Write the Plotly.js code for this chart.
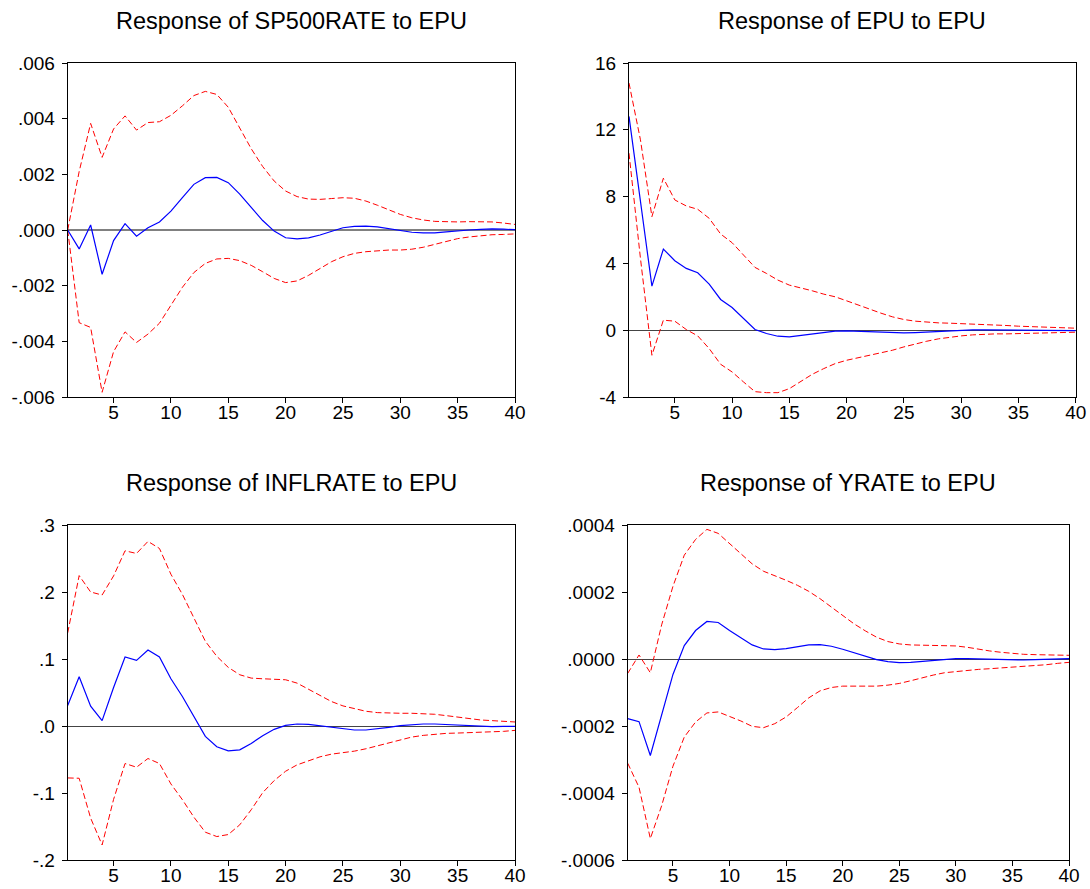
<!DOCTYPE html>
<html>
<head>
<meta charset="utf-8">
<script src="https://cdn.plot.ly/plotly-3.0.1.min.js"></script>
<style>html,body{margin:0;padding:0;background:#fff;}#chart{width:1090px;height:889px;}</style>
</head>
<body>
<div id="chart"></div>
<script>
// Periods
var periods = [1,2,3,4,5,6,7,8,9,10,11,12,13,14,15,16,17,18,19,20,21,22,23,24,25,26,27,28,29,30,31,32,33,34,35,36,37,38,39,40];

// Panel titles
var panelTitles = ["Response of SP500RATE to EPU", "Response of EPU to EPU", "Response of INFLRATE to EPU", "Response of YRATE to EPU"];

// Response of SP500RATE to EPU
var spResp = [0, -0.00068, 0.00018, -0.00159, -0.00038, 0.00023, -0.00022, 0.00008, 0.00029, 0.00068, 0.00116, 0.00164, 0.00188, 0.00189, 0.00170, 0.00129, 0.00081, 0.00034, -0.00004, -0.00028, -0.00032, -0.00028, -0.00018, -0.00004, 0.00008, 0.00013, 0.00014, 0.00011, 0.00005, -0.00001, -0.00008, -0.0001, -0.0001, -0.00007, -0.00003, 0, 0.00002, 0.00004, 0.00003, 0.00001];
var spUpper = [0, 0.0021, 0.00383, 0.00261, 0.00363, 0.0041, 0.00359, 0.00386, 0.00389, 0.00412, 0.00446, 0.00483, 0.00498, 0.00487, 0.00441, 0.00364, 0.00292, 0.00228, 0.00176, 0.0014, 0.0012, 0.00111, 0.0011, 0.00113, 0.00116, 0.00114, 0.00104, 0.00089, 0.00072, 0.00056, 0.00044, 0.00036, 0.00031, 0.00029, 0.00029, 0.0003, 0.0003, 0.00029, 0.00025, 0.0002];
var spLower = [0, -0.00333, -0.0035, -0.00583, -0.00437, -0.00366, -0.00404, -0.00374, -0.00335, -0.00272, -0.00206, -0.00153, -0.0012, -0.00104, -0.00102, -0.0011, -0.00127, -0.0015, -0.00174, -0.00189, -0.00183, -0.00163, -0.00138, -0.00114, -0.00096, -0.00084, -0.00078, -0.00074, -0.00072, -0.00072, -0.00069, -0.00062, -0.00051, -0.00041, -0.00031, -0.00025, -0.0002, -0.00017, -0.00016, -0.00014];

// Response of EPU to EPU
var epuResp = [12.8, 7.7, 2.64, 4.86, 4.16, 3.7, 3.44, 2.76, 1.84, 1.36, 0.68, 0.04, -0.2, -0.36, -0.4, -0.32, -0.22, -0.14, -0.06, -0.04, -0.06, -0.1, -0.14, -0.16, -0.16, -0.14, -0.1, -0.06, -0.02, 0, 0.02, 0.02, 0.02, 0.01, 0, 0, -0.01, -0.01, -0.02, -0.02];
var epuUpper = [14.8, 11.4, 6.8, 9.1, 7.8, 7.44, 7.24, 6.7, 5.76, 5.24, 4.5, 3.76, 3.4, 3.0, 2.7, 2.54, 2.36, 2.16, 2.0, 1.76, 1.5, 1.26, 1.02, 0.8, 0.64, 0.54, 0.48, 0.44, 0.42, 0.4, 0.38, 0.34, 0.3, 0.28, 0.24, 0.22, 0.2, 0.16, 0.14, 0.12];
var epuLower = [10.6, 4.3, -1.5, 0.6, 0.54, 0.04, -0.34, -1.1, -2.04, -2.5, -3.1, -3.68, -3.74, -3.74, -3.5, -3.06, -2.64, -2.3, -2.0, -1.8, -1.66, -1.52, -1.36, -1.2, -1.0, -0.82, -0.66, -0.52, -0.42, -0.34, -0.28, -0.24, -0.22, -0.22, -0.2, -0.2, -0.18, -0.16, -0.14, -0.12];

// Response of INFLRATE to EPU
var inflResp = [0.0305, 0.0735, 0.0295, 0.008, 0.0575, 0.103, 0.098, 0.1135, 0.103, 0.0705, 0.044, 0.014, -0.0155, -0.031, -0.037, -0.0355, -0.026, -0.0145, -0.005, 0.001, 0.003, 0.0025, 0.0005, -0.002, -0.0045, -0.006, -0.006, -0.0045, -0.002, 0.0005, 0.002, 0.003, 0.003, 0.002, 0.001, 0, -0.001, -0.001, -0.0005, -0.0005];
var inflUpper = [0.139, 0.2245, 0.2, 0.1955, 0.224, 0.2615, 0.2575, 0.2755, 0.265, 0.2265, 0.1965, 0.1615, 0.1265, 0.104, 0.0875, 0.0765, 0.0715, 0.0705, 0.07, 0.069, 0.064, 0.055, 0.045, 0.0365, 0.03, 0.0255, 0.022, 0.02, 0.019, 0.019, 0.019, 0.0185, 0.0175, 0.0155, 0.013, 0.011, 0.009, 0.008, 0.007, 0.006];
var inflLower = [-0.0775, -0.078, -0.1375, -0.1775, -0.1095, -0.056, -0.0615, -0.0485, -0.056, -0.0865, -0.11, -0.136, -0.1585, -0.165, -0.162, -0.1475, -0.125, -0.0995, -0.0815, -0.0675, -0.058, -0.0515, -0.046, -0.042, -0.04, -0.0375, -0.034, -0.0295, -0.025, -0.02, -0.0165, -0.014, -0.012, -0.011, -0.0105, -0.01, -0.0095, -0.009, -0.008, -0.0065];

// Response of YRATE to EPU
var yResp = [-1.78e-4, -1.87e-4, -2.88e-4, -1.68e-4, -4.6e-5, 4.0e-5, 8.5e-5, 1.12e-4, 1.09e-4, 8.5e-5, 6.4e-5, 4.2e-5, 3.0e-5, 2.8e-5, 3.1e-5, 3.6e-5, 4.2e-5, 4.3e-5, 3.8e-5, 2.9e-5, 1.8e-5, 7e-6, -2e-6, -8e-6, -1.1e-5, -1.0e-5, -7e-6, -4e-6, -1e-6, 1e-6, 1e-6, 0, -1e-6, -2e-6, -3e-6, -3e-6, -2e-6, -1e-6, 0, 1e-6];
var yUpper = [-4.3e-5, 1.2e-5, -4.1e-5, 1.02e-4, 2.17e-4, 3.10e-4, 3.57e-4, 3.87e-4, 3.75e-4, 3.44e-4, 3.14e-4, 2.84e-4, 2.62e-4, 2.49e-4, 2.35e-4, 2.20e-4, 2.02e-4, 1.80e-4, 1.55e-4, 1.30e-4, 1.05e-4, 8.4e-5, 6.5e-5, 5.2e-5, 4.5e-5, 4.2e-5, 4.1e-5, 4.1e-5, 4.1e-5, 3.9e-5, 3.5e-5, 2.9e-5, 2.4e-5, 2.0e-5, 1.6e-5, 1.4e-5, 1.3e-5, 1.2e-5, 1.1e-5, 1.1e-5];
var yLower = [-3.11e-4, -3.83e-4, -5.36e-4, -4.38e-4, -3.20e-4, -2.33e-4, -1.88e-4, -1.61e-4, -1.58e-4, -1.71e-4, -1.85e-4, -2.01e-4, -2.05e-4, -1.93e-4, -1.73e-4, -1.45e-4, -1.16e-4, -9.5e-5, -8.5e-5, -8.1e-5, -8.1e-5, -8.1e-5, -8.1e-5, -7.8e-5, -7.3e-5, -6.5e-5, -5.6e-5, -4.8e-5, -4.1e-5, -3.7e-5, -3.4e-5, -3.1e-5, -2.9e-5, -2.7e-5, -2.5e-5, -2.3e-5, -2.0e-5, -1.7e-5, -1.3e-5, -1.0e-5];

// Tick labels
var xTicks = [5,10,15,20,25,30,35,40];
var spTickVals = [-0.006,-0.004,-0.002,0,0.002,0.004,0.006];
var spTickText = ["-.006","-.004","-.002",".000",".002",".004",".006"];
var epuTickVals = [-4,0,4,8,12,16];
var epuTickText = ["-4","0","4","8","12","16"];
var inflTickVals = [-0.2,-0.1,0,0.1,0.2,0.3];
var inflTickText = ["-.2","-.1",".0",".1",".2",".3"];
var yTickVals = [-0.0006,-0.0004,-0.0002,0,0.0002,0.0004];
var yTickText = ["-.0006","-.0004","-.0002",".0000",".0002",".0004"];

var W = 1090, H = 889;
// plot areas in pixels [left, right, top, bottom]
var boxes = [[67.7,515,63,397],[629,1075.7,63,397],[67.7,515,525,860],[627.7,1069,525,860]];
var yRanges = [[-0.006,0.006],[-4,16],[-0.2,0.3],[-0.0006,0.0004]];
var tv = [spTickVals, epuTickVals, inflTickVals, yTickVals];
var tt = [spTickText, epuTickText, inflTickText, yTickText];
var series = [[spResp,spUpper,spLower],[epuResp,epuUpper,epuLower],[inflResp,inflUpper,inflLower],[yResp,yUpper,yLower]];

var FONT = "Liberation Sans, Arial, sans-serif";
var data = [];
var layout = {
  width: W, height: H,
  margin: {l:0,r:0,t:0,b:0},
  paper_bgcolor: "#fff", plot_bgcolor: "#fff",
  showlegend: false,
  font: {family: FONT, size: 19, color: "#000"},
  annotations: []
};

for (var i = 0; i < 4; i++) {
  var sfx = i === 0 ? "" : String(i+1);
  var xa = "x" + sfx, ya = "y" + sfx;
  var b = boxes[i];
  var s = series[i];
  data.push({x: periods, y: s[1], xaxis: xa, yaxis: ya, type: "scatter", mode: "lines",
    line: {color: "#ff0000", width: 1, dash: "6px,3px"}, hoverinfo: "skip"});
  data.push({x: periods, y: s[2], xaxis: xa, yaxis: ya, type: "scatter", mode: "lines",
    line: {color: "#ff0000", width: 1, dash: "6px,3px"}, hoverinfo: "skip"});
  data.push({x: periods, y: s[0], xaxis: xa, yaxis: ya, type: "scatter", mode: "lines",
    line: {color: "#0000ff", width: 1.2}, hoverinfo: "skip"});

  layout["xaxis" + sfx] = {
    domain: [b[0]/W, b[1]/W], anchor: ya, range: [1, 40],
    tickmode: "array", tickvals: xTicks, ticks: "outside", ticklen: 5, tickwidth: 1, tickcolor: "#000",
    showline: true, linecolor: "#000", linewidth: 1, mirror: true,
    showgrid: false, zeroline: false,
    tickfont: {family: FONT, size: 19, color: "#000"}, ticklabelstandoff: -7
  };
  layout["yaxis" + sfx] = {
    domain: [1 - b[3]/H, 1 - b[2]/H], anchor: xa, range: yRanges[i],
    tickmode: "array", tickvals: tv[i], ticktext: tt[i], ticks: "outside", ticklen: 5, tickwidth: 1, tickcolor: "#000",
    showline: true, linecolor: "#000", linewidth: 1, mirror: true,
    showgrid: false, zeroline: true, zerolinecolor: i === 0 ? "#808080" : "#444", zerolinewidth: i === 0 ? 2 : 1,
    tickfont: {family: FONT, size: 19, color: "#000"}, ticklabelstandoff: 3
  };
  layout.annotations.push({
    text: panelTitles[i], showarrow: false,
    xref: "paper", yref: "paper",
    x: (b[0]+b[1])/2/W, y: 1 - (b[2]-42)/H,
    xanchor: "center", yanchor: "middle",
    font: {family: FONT, size: 23.5, color: "#000"}
  });
}

Plotly.newPlot("chart", data, layout, {staticPlot: true, displayModeBar: false});
</script>
</body>
</html>
